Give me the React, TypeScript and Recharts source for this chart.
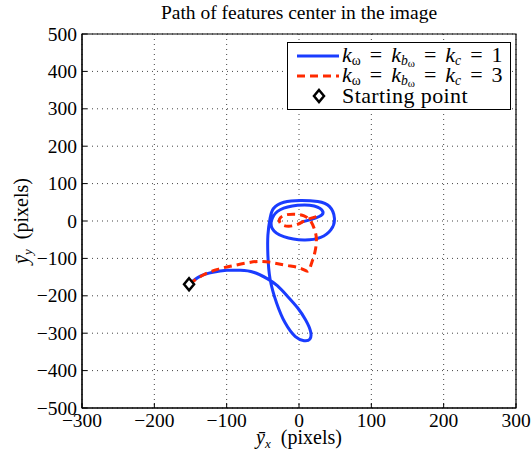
import React from 'react';
import { ComposedChart, Line, Scatter, XAxis, YAxis, CartesianGrid, ReferenceArea, Legend } from 'recharts';

const X_TICKS = [-300, -200, -100, 0, 100, 200, 300];
const Y_TICKS = [-500, -400, -300, -200, -100, 0, 100, 200, 300, 400, 500];

// k = 1 path (blue)
const blueX = [-152, -137, -119, -100, -81, -63, -44, -30, -16, -2, 9, 16, 15, 7, -5, -19, -31, -40, -43, -43, -40, -35, -21, 2, 26, 42, 49, 44, 30, 7, -21, -37, -37, -26, -2, 21, 33, 28, 15, 3];
const blueY = [-169, -148, -137, -132, -132, -137, -154, -173, -201, -232, -264, -295, -316, -320, -309, -273, -219, -155, -92, -38, 7, 34, 50, 55, 52, 39, 7, -24, -44, -51, -42, -20, 7, 30, 42, 40, 25, 12, 3, -3];

// k = 3 path (red, dashed)
const redX = [-152, -133, -114, -95, -72, -53, -35, -16, 2, 12, 17, 22, 24, 21, 16, 7, -5, -19, -27, -24, -14, -2, 7, 16, 26];
const redY = [-169, -145, -130, -121, -112, -108, -112, -119, -126, -134, -115, -83, -47, -20, 0, 14, 18, 16, 5, -9, -14, -9, 0, 7, 13];

const startX = [-152];
const startY = [-169];

const toPoints = (xs: number[], ys: number[]) => xs.map((x, i) => ({ x, y: ys[i] }));
const blueData = toPoints(blueX, blueY);
const redData = toPoints(redX, redY);
const startData = toPoints(startX, startY);

const FONT = '"Liberation Serif", "DejaVu Serif", serif';
const BLUE = '#1a3cff';
const RED = '#ff2a00';

const fmt = (v: number) => String(v).replace('-', '\u2212');
const blank = () => '';

// tick labels sit outside the box while the tick marks point inward
const XTick = (props: any) => {
  const { x, y, payload } = props;
  return (
    <text x={x} y={y + 24} textAnchor="middle" fontFamily={FONT} fontSize={19.5} fill="#000">
      {fmt(payload.value)}
    </text>
  );
};

const YTick = (props: any) => {
  const { x, y, payload } = props;
  return (
    <text x={x - 10} y={y + 6.5} textAnchor="end" fontFamily={FONT} fontSize={19.5} fill="#000">
      {fmt(payload.value)}
    </text>
  );
};

const Diamond = (props: any) => {
  const { cx, cy } = props;
  return (
    <path
      d={`M${cx},${cy - 6} L${cx + 5},${cy} L${cx},${cy + 6} L${cx - 5},${cy} Z`}
      fill="#fff"
      stroke="#000"
      strokeWidth={2.5}
    />
  );
};

const sub = (extra?: any): React.CSSProperties => ({
  fontSize: '0.62em',
  position: 'relative',
  top: '0.28em',
  ...extra,
});
const eq: React.CSSProperties = { margin: '0 9px' };

const K = ({ n }: { n: number }) => (
  <span style={{ whiteSpace: 'nowrap' }}>
    <i>k</i><span style={sub()}>ω</span>
    <span style={eq}>=</span>
    <i>k</i><span style={sub()}><i>b</i><span style={{ fontSize: '0.8em', position: 'relative', top: '0.2em' }}>ω</span></span>
    <span style={eq}>=</span>
    <i>k</i><span style={sub()}><i>c</i></span>
    <span style={eq}>=</span>{n}
  </span>
);

const LegendBox = () => (
  <div
    style={{
      width: 224,
      height: 68,
      border: '1.5px solid #000',
      background: '#fff',
      fontFamily: FONT,
      fontSize: 22,
      lineHeight: '20px',
      boxSizing: 'border-box',
      padding: '3px 0 0 8px',
    }}
  >
    <div style={{ display: 'flex', alignItems: 'center', height: 20 }}>
      <svg width={46} height={10}><line x1={1} y1={5} x2={43} y2={5} stroke={BLUE} strokeWidth={3} /></svg>
      <K n={1} />
    </div>
    <div style={{ display: 'flex', alignItems: 'center', height: 20 }}>
      <svg width={46} height={10}><line x1={1} y1={5} x2={43} y2={5} stroke={RED} strokeWidth={3} strokeDasharray="8 5" /></svg>
      <K n={3} />
    </div>
    <div style={{ display: 'flex', alignItems: 'center', height: 20 }}>
      <svg width={46} height={16}>
        <path d="M23,2 L28,8 L23,14 L18,8 Z" fill="#fff" stroke="#000" strokeWidth={2.5} />
      </svg>
      <span style={{ letterSpacing: '0.4px' }}>Starting point</span>
    </div>
  </div>
);

const XLabel = (props: any) => {
  const vb = props.viewBox || {};
  const cx = vb.x + vb.width / 2;
  return (
    <text x={cx} y={444} textAnchor="middle" fontFamily={FONT} fontSize={20} fill="#000">
      <tspan fontStyle="italic">ȳ</tspan>
      <tspan fontStyle="italic" fontSize={13} dy={4}>x</tspan>
      <tspan dy={-4}>{'\u2002(pixels)'}</tspan>
    </text>
  );
};

const YLabel = (props: any) => {
  const vb = props.viewBox || {};
  const cy = vb.y + vb.height / 2;
  return (
    <text x={28} y={cy} transform={`rotate(-90, 28, ${cy})`} textAnchor="middle" fontFamily={FONT} fontSize={20} fill="#000">
      <tspan fontStyle="italic">ȳ</tspan>
      <tspan fontStyle="italic" fontSize={13} dy={4}>y</tspan>
      <tspan dy={-4}>{'\u2002(pixels)'}</tspan>
    </text>
  );
};

export default function App() {
  return (
    <div style={{ position: 'absolute', left: 0, top: 0, width: 532, height: 454, background: '#fff', fontFamily: FONT }}>
      <div
        style={{
          position: 'absolute',
          top: 2,
          left: 82,
          width: 434,
          textAlign: 'center',
          fontFamily: FONT,
          fontSize: 19.5,
        }}
      >
        Path of features center in the image
      </div>
      <ComposedChart width={532} height={454} margin={{ top: 34, right: 16, bottom: 0, left: 0 }} style={{ fontFamily: FONT }}>
        <CartesianGrid stroke="#444" strokeDasharray="1 4" />
        <XAxis
          dataKey="x"
          type="number"
          domain={[-300, 300]}
          ticks={X_TICKS}
          height={46}
          stroke="#000"
          tickSize={-5}
          tickMargin={0}
          tick={<XTick />}
          label={<XLabel />}
          allowDataOverflow
        />
        <XAxis
          xAxisId="top"
          orientation="top"
          type="number"
          domain={[-300, 300]}
          ticks={X_TICKS}
          tickFormatter={blank}
          height={0}
          stroke="#000"
          tickSize={-5}
          allowDataOverflow
        />
        <YAxis
          dataKey="y"
          type="number"
          domain={[-500, 500]}
          ticks={Y_TICKS}
          width={82}
          stroke="#000"
          tickSize={-5}
          tickMargin={0}
          tick={<YTick />}
          label={<YLabel />}
          allowDataOverflow
        />
        <YAxis
          yAxisId="right"
          orientation="right"
          type="number"
          domain={[-500, 500]}
          ticks={Y_TICKS}
          tickFormatter={blank}
          width={0}
          stroke="#000"
          tickSize={-5}
          allowDataOverflow
        />
        <ReferenceArea x1={-300} x2={300} y1={-500} y2={500} fill="none" stroke="#000" strokeWidth={1.2} />
        <Line
          data={blueData}
          dataKey="y"
          type="natural"
          stroke={BLUE}
          strokeWidth={3}
          dot={false}
          isAnimationActive={false}
        />
        <Line
          data={redData}
          dataKey="y"
          type="natural"
          stroke={RED}
          strokeWidth={3}
          strokeDasharray="8 5"
          dot={false}
          isAnimationActive={false}
        />
        <Scatter data={startData} dataKey="y" shape={<Diamond />} isAnimationActive={false} />
        <Legend
          layout="vertical"
          align="center"
          verticalAlign="middle"
          content={<LegendBox />}
          wrapperStyle={{ top: 42, left: 287, width: 224, height: 68 }}
        />
      </ComposedChart>
    </div>
  );
}
